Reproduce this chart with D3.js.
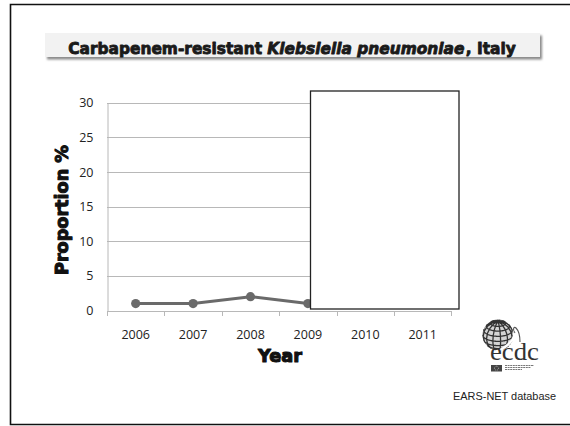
<!DOCTYPE html>
<html>
<head>
<meta charset="utf-8">
<script src="https://cdn.jsdelivr.net/npm/d3@7"></script>
<style>
  html, body { margin: 0; padding: 0; background: #fff; }
  svg { display: block; }
</style>
</head>
<body>
<svg id="chart" width="570" height="426"></svg>
<script>
// Carbapenem-resistant K. pneumoniae in Italy, proportion of isolates by year
const years = ["2006", "2007", "2008", "2009", "2010", "2011"];
const shownYears = ["2006", "2007", "2008", "2009"];
const proportion = [1.0, 1.0, 2.0, 1.0];
const yTicks = [0, 5, 10, 15, 20, 25, 30];

const svg = d3.select("#chart");
const heavy = "'DejaVu Sans', 'Liberation Sans', sans-serif";
const bodyFont = "'Open Sans', 'Liberation Sans', sans-serif";

const defs = svg.append("defs");
defs.append("filter").attr("id", "soft").attr("x", "-5%").attr("y", "-30%")
  .attr("width", "110%").attr("height", "160%")
  .append("feGaussianBlur").attr("stdDeviation", 1.2);

// slide frame
svg.append("path")
  .attr("d", "M572,4.5 H10.5 V424.5 H572")
  .attr("fill", "none").attr("stroke", "#111").attr("stroke-width", 1.6);

// title banner
svg.append("rect").attr("x", 47).attr("y", 35.5).attr("width", 495).attr("height", 24)
  .attr("fill", "#8a8a8a").attr("filter", "url(#soft)");
svg.append("rect").attr("x", 45).attr("y", 33).attr("width", 495).attr("height", 24)
  .attr("fill", "#f2f2f2");

// heavy display text: bold face thickened with a stroke
function heavyStyle(g, c) {
  return g.attr("font-family", heavy).attr("font-weight", 700)
    .attr("fill", c).attr("stroke", c).attr("stroke-linejoin", "round");
}

// title: natural layout, then scaled horizontally to the banner's text width
const titleG = svg.append("g");
const title = heavyStyle(titleG.append("text"), "#1a1a1a")
  .attr("x", 0).attr("y", 0).attr("text-anchor", "middle")
  .attr("font-size", 16.5).attr("stroke-width", 0.9);
title.append("tspan").text("Carbapenem-resistant ");
title.append("tspan").attr("font-style", "italic").text("Klebsiella pneumoniae");
title.append("tspan").attr("dx", 1.5).text(", Italy");
const tw = title.node().getBBox().width;
titleG.attr("transform", `translate(292,54) scale(${448 / tw},1)`);

// scales
const x = d3.scaleBand().domain(years).range([107, 451.4]);
const y = d3.scaleLinear().domain([0, 30]).range([310.5, 102.8]);

// horizontal gridlines
svg.append("g").selectAll("line").data(yTicks.filter(d => d > 0)).join("line")
  .attr("x1", 107).attr("x2", 451.4)
  .attr("y1", d => Math.round(y(d)) + 0.5).attr("y2", d => Math.round(y(d)) + 0.5)
  .attr("stroke", "#b8b8b8").attr("stroke-width", 1);

// y axis
const yAxis = svg.append("g").attr("transform", "translate(107.5,0)")
  .call(d3.axisLeft(y).tickValues(yTicks).tickSize(0).tickPadding(14));
yAxis.select(".domain").attr("stroke", "#b8b8b8");
yAxis.selectAll("text").attr("font-family", bodyFont).attr("font-size", 12.5)
  .attr("fill", "#222");

// x axis
const xAxis = svg.append("g").attr("transform", "translate(0,311)")
  .call(d3.axisBottom(x).tickSize(0).tickPadding(19));
xAxis.select(".domain").attr("stroke", "#b8b8b8").attr("d", `M${x.range()[0]},0.5H${x.range()[1]}`);
xAxis.selectAll("text").attr("font-family", bodyFont).attr("font-size", 12.5)
  .attr("fill", "#222");
svg.append("g").selectAll("line").data(d3.range(years.length + 1)).join("line")
  .attr("x1", i => Math.round(x.range()[0] + i * x.step()) + 0.5)
  .attr("x2", i => Math.round(x.range()[0] + i * x.step()) + 0.5)
  .attr("y1", 311).attr("y2", 316)
  .attr("stroke", "#b8b8b8");

// series
const pts = shownYears.map((yr, i) => ({ yr, v: proportion[i] }));
svg.append("path").datum(pts)
  .attr("d", d3.line().x(d => x(d.yr) + x.bandwidth() / 2).y(d => y(d.v)))
  .attr("fill", "none").attr("stroke", "#6a6a6a").attr("stroke-width", 3);
svg.append("g").selectAll("circle").data(pts).join("circle")
  .attr("cx", d => x(d.yr) + x.bandwidth() / 2).attr("cy", d => y(d.v))
  .attr("r", 4.6).attr("fill", "#6a6a6a");

// cover panel over the later years
svg.append("rect")
  .attr("x", 310.5).attr("y", 91).attr("width", 148.5).attr("height", 218)
  .attr("fill", "#fff").attr("stroke", "#222").attr("stroke-width", 1.3);

// axis titles
heavyStyle(svg.append("text"), "#111")
  .attr("transform", "translate(68,210) rotate(-90)").attr("text-anchor", "middle")
  .attr("font-size", 18).attr("stroke-width", 1.1)
  .attr("textLength", 130).attr("lengthAdjust", "spacingAndGlyphs")
  .text("Proportion %");
heavyStyle(svg.append("text"), "#111")
  .attr("x", 280).attr("y", 361.5).attr("text-anchor", "middle")
  .attr("font-size", 18).attr("stroke-width", 1.1)
  .attr("textLength", 44).attr("lengthAdjust", "spacingAndGlyphs")
  .text("Year");

// source note
svg.append("text")
  .attr("x", 453).attr("y", 400)
  .attr("font-family", "'Liberation Sans', Arial, sans-serif").attr("font-size", 10.5)
  .attr("fill", "#222").attr("textLength", 103).attr("lengthAdjust", "spacingAndGlyphs")
  .text("EARS-NET database");

// ECDC logo
const logo = svg.append("g");
const proj = d3.geoOrthographic().scale(15).translate([498, 335]).rotate([-20, -25]).clipAngle(90);
const gp = d3.geoPath(proj);
logo.append("path").datum({ type: "Sphere" }).attr("d", gp)
  .attr("fill", "#d4d4d4").attr("stroke", "#666").attr("stroke-width", 0.8);
logo.append("path").datum(d3.geoGraticule().step([30, 20])())
  .attr("d", gp).attr("fill", "none").attr("stroke", "#333").attr("stroke-width", 1.3);
logo.append("path")
  .attr("d", "M486,347 C492,355 500,351 505,347 C510,343 515,339 514,333")
  .attr("fill", "none").attr("stroke", "#fff").attr("stroke-width", 2.5);
logo.append("path")
  .attr("d", "M520,342 C520,336 518,330 516,328 C514,326 512,329 515,333")
  .attr("fill", "none").attr("stroke", "#555").attr("stroke-width", 1.1);
logo.append("text").attr("x", 490).attr("y", 360)
  .attr("font-family", "'Liberation Serif', 'DejaVu Serif', serif").attr("font-size", 25)
  .attr("fill", "#333").attr("textLength", 49).attr("lengthAdjust", "spacingAndGlyphs")
  .text("ecdc");
logo.append("rect").attr("x", 491).attr("y", 365).attr("width", 11).attr("height", 6.5)
  .attr("fill", "#444");
logo.append("circle").attr("cx", 496.5).attr("cy", 368.2).attr("r", 2)
  .attr("fill", "none").attr("stroke", "#ccc").attr("stroke-width", 0.8).attr("stroke-dasharray", "0.8 0.8");
logo.append("g").selectAll("line").data([365.5, 367.5, 369.5]).join("line")
  .attr("x1", 505).attr("x2", (d, i) => [534, 531, 522][i])
  .attr("y1", d => d).attr("y2", d => d)
  .attr("stroke", "#777").attr("stroke-width", 1).attr("stroke-dasharray", "2 0.6");
</script>
</body>
</html>
